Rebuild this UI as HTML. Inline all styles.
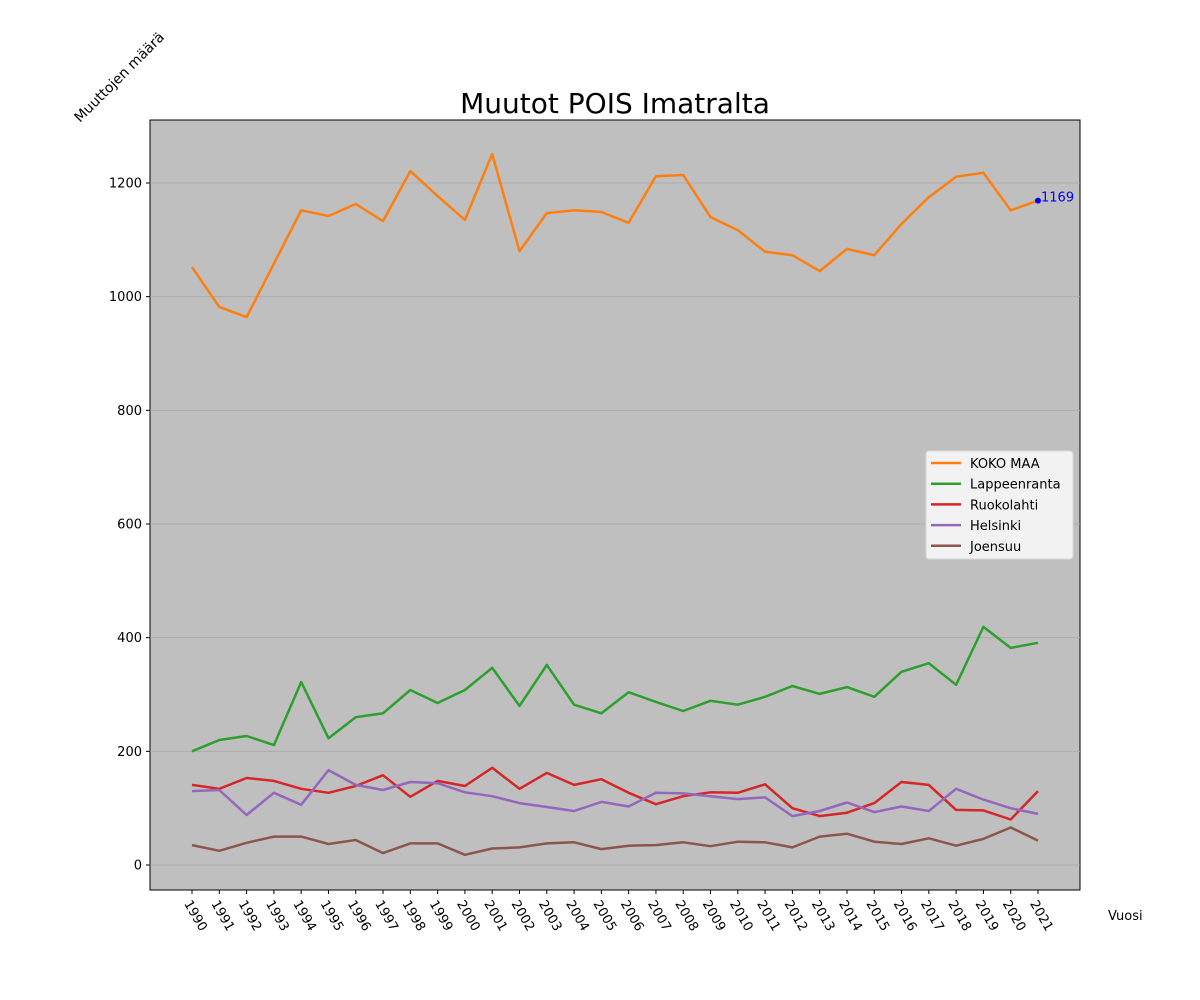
<!DOCTYPE html>
<html><head><meta charset="utf-8"><style>
body{margin:0;background:#fff;}
svg{display:block;font-family:"DejaVu Sans","Liberation Sans",sans-serif;}
</style></head><body>
<svg id="chart" width="1200" height="1000" viewBox="0 0 1200 1000" xmlns="http://www.w3.org/2000/svg">
<rect x="0" y="0" width="1200" height="1000" fill="#fff"/>
<text x="615" y="113" font-size="28" text-anchor="middle" fill="#000">Muutot POIS Imatralta</text>
<rect x="150" y="120" width="930" height="770" fill="#bfbfbf" stroke="#000" stroke-width="1"/>
<g id="grid"></g>
<g id="yticks"></g>
<g id="xticks"></g>
<g id="series"></g>
<text x="0" y="0" font-size="14" transform="translate(80,123) rotate(-45)" fill="#000">Muuttojen määrä</text>
<text x="1108" y="920" font-size="13" fill="#000">Vuosi</text>
<g id="legend"></g>
</svg>
<script>
const years = [1990,1991,1992,1993,1994,1995,1996,1997,1998,1999,2000,2001,2002,2003,2004,2005,2006,2007,2008,2009,2010,2011,2012,2013,2014,2015,2016,2017,2018,2019,2020,2021];
const kokoMaa = [1052,982,964,1058,1152,1142,1163,1133,1221,1177,1135,1251,1080,1147,1152,1149,1130,1212,1214,1140,1117,1079,1073,1045,1084,1073,1128,1175,1211,1218,1152,1169];
const lappeenranta = [200,220,227,211,322,223,260,267,308,285,308,347,280,352,282,267,304,287,271,289,282,296,315,301,313,296,340,355,317,419,382,391];
const ruokolahti = [141,134,153,148,134,127,139,158,120,148,139,171,134,162,141,151,127,107,121,128,127,142,100,86,92,109,146,141,97,96,80,130];
const helsinki = [130,132,88,127,106,167,141,132,146,144,128,121,109,102,95,111,103,127,126,121,116,119,86,95,110,93,103,95,134,115,100,90];
const joensuu = [35,25,39,50,50,37,44,21,38,38,18,29,31,38,40,28,34,35,40,33,41,40,31,50,55,41,37,47,34,46,66,43];
const yTicks = [0,200,400,600,800,1000,1200];
const seriesNames = ["KOKO MAA","Lappeenranta","Ruokolahti","Helsinki","Joensuu"];
const seriesData = [kokoMaa,lappeenranta,ruokolahti,helsinki,joensuu];
const seriesColors = ["#ff7f0e","#2ca02c","#d62728","#9467bd","#8c564b"];

const NS="http://www.w3.org/2000/svg";
const x0=192, x1=1038;
function xs(i){return x0+(x1-x0)*i/(years.length-1);}
function ys(v){return 865-v*(682/1200);}
function mk(tag,attrs,parent){const e=document.createElementNS(NS,tag);for(const k in attrs)e.setAttribute(k,attrs[k]);parent.appendChild(e);return e;}

const grid=document.getElementById('grid'), yt=document.getElementById('yticks');
yTicks.forEach(v=>{
  const y=ys(v);
  const g=mk('line',{x1:150,x2:1080,y1:y,y2:y,stroke:'#a8a8a8','stroke-width':0.8},grid);
  
  
  mk('line',{x1:146,x2:150,y1:y,y2:y,stroke:'#000'},yt);
  const t=mk('text',{x:142,y:y+4.5,'font-size':13,'text-anchor':'end',fill:'#000'},yt);
  
  
  t.textContent=v;
});
const xt=document.getElementById('xticks');
years.forEach((yr,i)=>{
  const x=xs(i);
  mk('line',{x1:x,x2:x,y1:890,y2:894,stroke:'#000'},xt);
  const t=mk('text',{x:0,y:0,'font-size':13,'text-anchor':'middle','dominant-baseline':'middle',fill:'#000',transform:`translate(${x+3},916) rotate(60)`},xt);
  
  
  t.textContent=yr;
});
const sg=document.getElementById('series');
seriesData.forEach((d,si)=>{
  const pts=d.map((v,i)=>xs(i).toFixed(1)+','+ys(v).toFixed(1)).join(' ');
  const p=mk('polyline',{points:pts,fill:'none',stroke:seriesColors[si],'stroke-width':2.5,'stroke-linejoin':'round'},sg);
  
  
});
const li=years.length-1;
const dot=mk('circle',{cx:xs(li),cy:ys(kokoMaa[li]),r:3,fill:'#0000ff'},sg);


const lab=mk('text',{x:xs(li)+3,y:ys(kokoMaa[li])+1,'font-size':13,fill:'#0000ff'},sg);


lab.textContent=kokoMaa[li];

const lg=document.getElementById('legend');
const box=mk('rect',{x:926,y:451,width:147,height:108,rx:3,fill:'#f2f2f2',stroke:'#d8d8d8'},lg);


seriesNames.forEach((n,i)=>{
  const y=463+i*20.7;
  mk('line',{x1:931,x2:961,y1:y,y2:y,stroke:seriesColors[i],'stroke-width':2.5},lg);
  const t=mk('text',{x:970,y:y+5,'font-size':13,fill:'#000'},lg);
  
  
  t.textContent=n;
});
</script>
</body></html>
